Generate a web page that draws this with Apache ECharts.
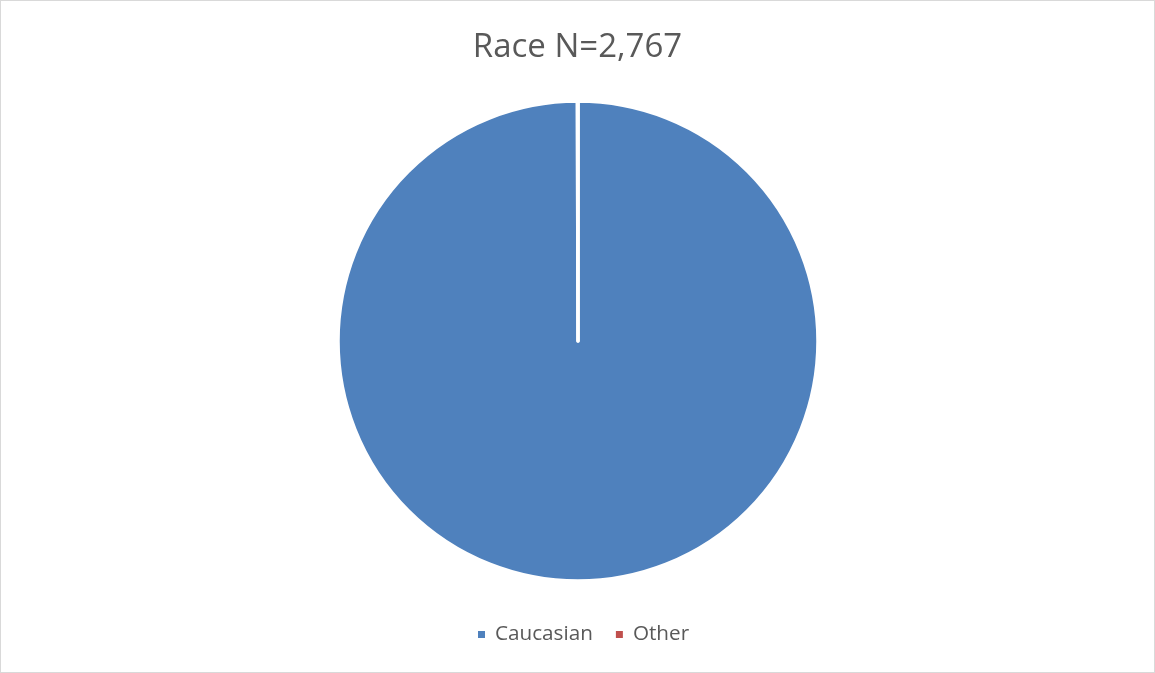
<!DOCTYPE html>
<html><head><meta charset="utf-8">
<script src="https://cdn.jsdelivr.net/npm/echarts@6/dist/echarts.min.js"></script>
<style>html,body{margin:0;padding:0;background:#fff}#c{width:1155px;height:673px;box-sizing:border-box;border:1px solid #d9d9d9}</style>
</head><body><div id="c"></div>
<script>
const categories = ["Caucasian", "Other"];
const values = [2766, 1];
const titleText = "Race N=2,767";
const colors = ["#4F81BD", "#C0504D"];
const chart = echarts.init(document.getElementById('c'));
chart.setOption({
  animation: false,
  title: { text: titleText, left: 'center', top: 25, textStyle: { fontFamily: 'Open Sans, Noto Sans, sans-serif', fontSize: 33, fontWeight: 'normal', color: '#595959' } },
  legend: { bottom: 22, left: 470, itemWidth: 9, itemHeight: 9, itemGap: 21, icon: 'rect',
    textStyle: { fontFamily: 'Open Sans, Noto Sans, sans-serif', fontSize: 20.7, color: '#595959', padding: [0, 0, 0, 4] },
    data: categories },
  series: [{
    type: 'pie', center: [577, 340], radius: [0, 240], startAngle: 90, clockwise: true,
    label: { show: false }, labelLine: { show: false },
    itemStyle: { borderColor: '#fff', borderWidth: 3.5 },
    data: categories.map((n, i) => ({ name: n, value: values[i], itemStyle: { color: colors[i] } }))
  }]
});
</script></body></html>
